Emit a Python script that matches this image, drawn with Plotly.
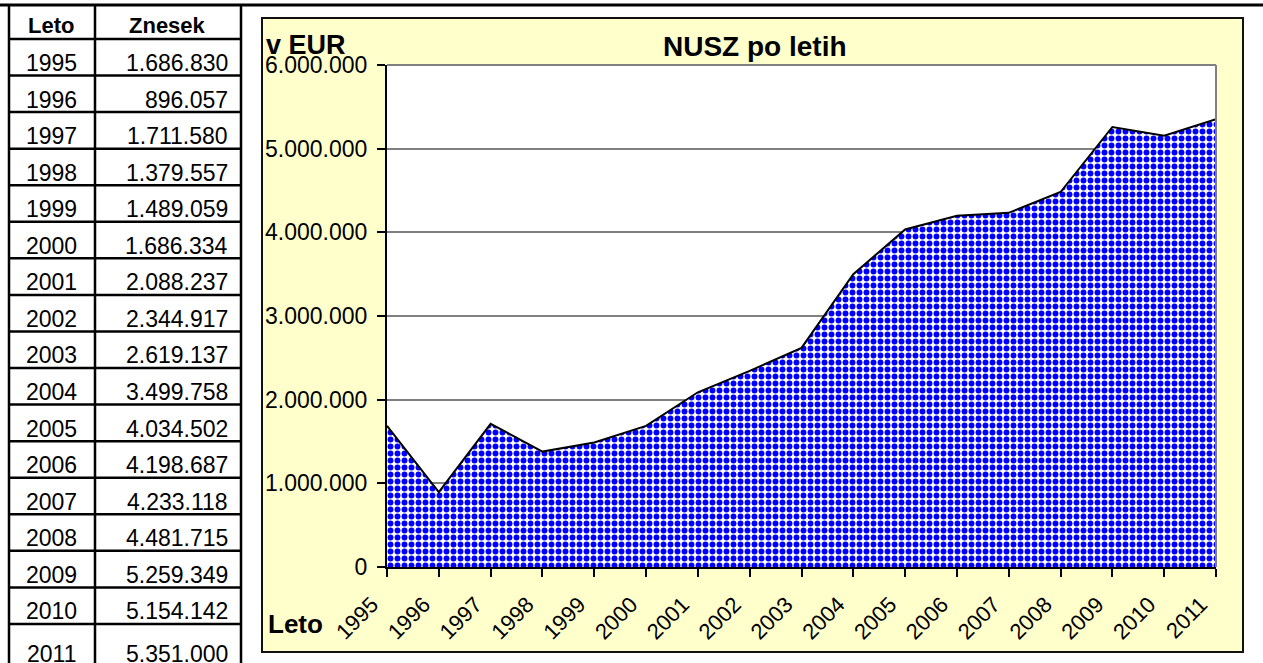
import plotly.graph_objects as go

years = [1995, 1996, 1997, 1998, 1999, 2000, 2001, 2002, 2003, 2004, 2005, 2006, 2007, 2008, 2009, 2010, 2011]
values = [1686830, 896057, 1711580, 1379557, 1489059, 1686334, 2088237, 2344917, 2619137,
          3499758, 4034502, 4198687, 4233118, 4481715, 5259349, 5154142, 5351000]
table_headers = ["Leto", "Znesek"]
chart_title = "NUSZ po letih"
y_title = "v EUR"
x_title = "Leto"

W, H = 1263, 663
PL, PR, PT, PB = 387, 1216, 65, 567
FONT = "Liberation Sans, Arial, sans-serif"


def px(x):
    return (x - PL) / (PR - PL)


def py(y):
    return (PB - y) / (PB - PT)


def fmt(v):
    return f"{v:,}".replace(",", ".")


fig = go.Figure()
fig.add_trace(go.Scatter(
    x=years, y=values, mode="lines", fill="tozeroy",
    line=dict(color="black", width=2),
    fillcolor="white",
    fillpattern=dict(shape=".", fgcolor="#0000FF", fgopacity=1, bgcolor="white", size=7, solidity=0.55),
    hoverinfo="skip", showlegend=False,
))

shapes = []
shapes.append(dict(type="rect", xref="paper", yref="paper", x0=px(262), x1=px(1243), y0=py(652), y1=py(18),
                   fillcolor="#FFFFCC", line=dict(color="#111111", width=2), layer="below"))
shapes.append(dict(type="rect", xref="paper", yref="paper", x0=0, x1=1, y0=0, y1=1,
                   fillcolor="white", line=dict(width=0), layer="below"))
shapes.append(dict(type="line", xref="paper", yref="paper", x0=0, x1=1, y0=1, y1=1,
                   line=dict(color="#808080", width=2), layer="above"))
shapes.append(dict(type="line", xref="paper", yref="paper", x0=1, x1=1, y0=0, y1=1,
                   line=dict(color="#808080", width=2), layer="above"))

# table grid
shapes.append(dict(type="line", xref="paper", yref="paper", x0=px(0), x1=px(1263), y0=py(5), y1=py(5),
                   line=dict(color="black", width=3)))
row_h = 36.56
row_top0 = 39
for k in range(len(years)):
    yy = row_top0 + k * row_h
    shapes.append(dict(type="line", xref="paper", yref="paper", x0=px(9), x1=px(241), y0=py(yy), y1=py(yy),
                       line=dict(color="black", width=2.5)))
for xx in (9, 95, 241):
    shapes.append(dict(type="line", xref="paper", yref="paper", x0=px(xx), x1=px(xx), y0=py(5), y1=py(663),
                       line=dict(color="black", width=2.5)))

annotations = []
for txt, cx in zip(table_headers, (51, 167)):
    annotations.append(dict(text=f"<b>{txt}</b>", x=px(cx), y=py(25), xref="paper", yref="paper",
                            xanchor="center", yanchor="middle", showarrow=False,
                            font=dict(family=FONT, size=22, color="black")))
for k, (yr, v) in enumerate(zip(years, values)):
    cy = row_top0 + k * row_h + 24
    if k == len(years) - 1:
        cy = row_top0 + k * row_h + 30
    annotations.append(dict(text=str(yr), x=px(51), y=py(cy), xref="paper", yref="paper",
                            xanchor="center", yanchor="middle", showarrow=False,
                            font=dict(family=FONT, size=23, color="black")))
    annotations.append(dict(text=fmt(v), x=px(230), y=py(cy), xref="paper", yref="paper",
                            xanchor="right", yanchor="middle", showarrow=False,
                            font=dict(family=FONT, size=23, color="black")))

annotations.append(dict(text=f"<b>{chart_title}</b>", x=px(755), y=py(46), xref="paper", yref="paper",
                        xanchor="center", yanchor="middle", showarrow=False,
                        font=dict(family=FONT, size=28, color="black")))
annotations.append(dict(text=f"<b>{y_title}</b>", x=px(264), y=py(45), xref="paper", yref="paper",
                        xanchor="left", yanchor="middle", showarrow=False,
                        font=dict(family=FONT, size=27, color="black")))
annotations.append(dict(text=f"<b>{x_title}</b>", x=px(266), y=py(624), xref="paper", yref="paper",
                        xanchor="left", yanchor="middle", showarrow=False,
                        font=dict(family=FONT, size=26, color="black")))

fig.update_layout(
    width=W, height=H,
    margin=dict(l=PL, r=W - PR, t=PT, b=H - PB, pad=0),
    paper_bgcolor="white", plot_bgcolor="white",
    separators=",.",
    shapes=shapes, annotations=annotations,
    font=dict(family=FONT, size=23, color="black"),
    xaxis=dict(range=[years[0], years[-1]], tickmode="array", tickvals=years, ticktext=[str(y) for y in years],
               tickangle=-45, ticks="outside", ticklen=8, tickwidth=1.5, tickcolor="black",
               ticklabelstandoff=6, ticklabelshift=-15,
               showline=True, linecolor="black", linewidth=2, showgrid=False, zeroline=False,
               tickfont=dict(family=FONT, size=22, color="black")),
    yaxis=dict(range=[0, 6000000], dtick=1000000, tickformat=",d", ticks="outside", ticklen=8,
               tickwidth=1.5, tickcolor="black", ticklabelstandoff=5,
               showline=True, linecolor="black", linewidth=2,
               showgrid=True, gridcolor="#808080", gridwidth=1.5, zeroline=False,
               tickfont=dict(family=FONT, size=23, color="black")),
)

fig.write_html("out.html", config={"displayModeBar": False},
               post_script="document.body.style.margin='0px';document.body.style.overflow='hidden';")
